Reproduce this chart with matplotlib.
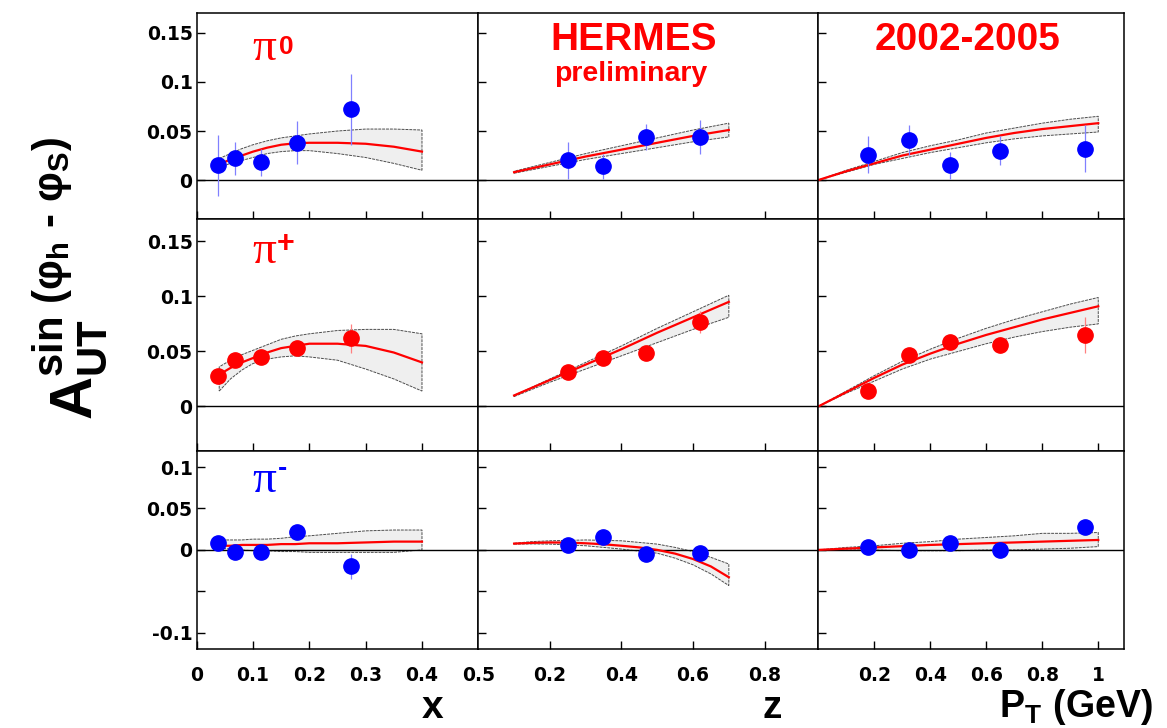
import numpy as np
import matplotlib.pyplot as plt

plt.rcParams['font.family'] = ['Liberation Sans', 'DejaVu Sans']
plt.rcParams['font.weight'] = 'bold'
plt.rcParams['mathtext.fontset'] = 'custom'
plt.rcParams['mathtext.rm'] = 'Liberation Sans:bold'
plt.rcParams['mathtext.bf'] = 'Liberation Sans:bold'
plt.rcParams['mathtext.it'] = 'Liberation Sans:bold'

# data points
x_bins = [0.037, 0.068, 0.115, 0.178, 0.274]
z_bins = [0.250, 0.348, 0.468, 0.619]
pt_bins = [0.178, 0.323, 0.471, 0.649, 0.951]

pi0_x = [0.015, 0.022, 0.018, 0.038, 0.072]
pi0_x_err = [0.031, 0.017, 0.014, 0.022, 0.036]
pip_x = [0.028, 0.042, 0.045, 0.053, 0.062]
pip_x_err = [0.005, 0.005, 0.005, 0.006, 0.013]
pim_x = [0.008, -0.003, -0.002, 0.022, -0.020]
pim_x_err = [0.006, 0.005, 0.006, 0.007, 0.015]

pi0_z = [0.020, 0.014, 0.044, 0.044]
pi0_z_err = [0.019, 0.013, 0.013, 0.017]
pip_z = [0.031, 0.044, 0.049, 0.077]
pip_z_err = [0.005, 0.005, 0.006, 0.010]
pim_z = [0.006, 0.016, -0.005, -0.004]
pim_z_err = [0.005, 0.006, 0.006, 0.008]

pi0_pt = [0.026, 0.041, 0.015, 0.030, 0.032]
pi0_pt_err = [0.019, 0.015, 0.014, 0.015, 0.024]
pip_pt = [0.014, 0.047, 0.059, 0.056, 0.065]
pip_pt_err = [0.005, 0.005, 0.005, 0.007, 0.016]
pim_pt = [0.003, 0.000, 0.008, 0.000, 0.028]
pim_pt_err = [0.004, 0.004, 0.005, 0.006, 0.006]

# model curves with uncertainty bands
x_curve = [0.04, 0.06, 0.08, 0.10, 0.125, 0.15, 0.175, 0.20, 0.25, 0.30, 0.35, 0.40]
pi0_x_fit = [0.016, 0.021, 0.025, 0.029, 0.033, 0.036, 0.0375, 0.038, 0.038, 0.037, 0.034, 0.029]
pi0_x_up = [0.022, 0.027, 0.032, 0.036, 0.040, 0.043, 0.045, 0.047, 0.050, 0.052, 0.052, 0.051]
pi0_x_lo = [0.013, 0.017, 0.020, 0.023, 0.027, 0.029, 0.030, 0.030, 0.027, 0.023, 0.017, 0.010]
pip_x_fit = [0.029, 0.035, 0.040, 0.044, 0.049, 0.053, 0.055, 0.057, 0.057, 0.055, 0.049, 0.040]
pip_x_up = [0.036, 0.042, 0.047, 0.051, 0.056, 0.061, 0.064, 0.066, 0.069, 0.070, 0.070, 0.066]
pip_x_lo = [0.014, 0.025, 0.033, 0.039, 0.043, 0.045, 0.046, 0.045, 0.042, 0.034, 0.025, 0.014]
pim_x_fit = [0.005, 0.005, 0.006, 0.006, 0.006, 0.007, 0.007, 0.008, 0.008, 0.009, 0.010, 0.010]
pim_x_up = [0.012, 0.012, 0.012, 0.013, 0.013, 0.014, 0.016, 0.017, 0.020, 0.023, 0.024, 0.024]
pim_x_lo = [0.002, 0.001, 0.000, -0.001, -0.001, -0.002, -0.002, -0.003, -0.003, -0.003, -0.003, 0.000]

z_curve = [0.10, 0.15, 0.20, 0.25, 0.30, 0.35, 0.40, 0.45, 0.50, 0.55, 0.60, 0.65, 0.70]
pi0_z_fit = [0.008, 0.012, 0.016, 0.020, 0.024, 0.0275, 0.031, 0.0345, 0.038, 0.0415, 0.045, 0.048, 0.051]
pi0_z_up = [0.009, 0.0135, 0.018, 0.0225, 0.027, 0.031, 0.035, 0.039, 0.043, 0.047, 0.051, 0.0545, 0.058]
pi0_z_lo = [0.007, 0.0105, 0.014, 0.0175, 0.021, 0.024, 0.027, 0.030, 0.033, 0.036, 0.039, 0.0415, 0.044]
pip_z_fit = [0.010, 0.017, 0.024, 0.031, 0.038, 0.045, 0.052, 0.0595, 0.067, 0.074, 0.081, 0.088, 0.095]
pip_z_up = [0.010, 0.0175, 0.025, 0.0325, 0.040, 0.0475, 0.055, 0.063, 0.071, 0.0785, 0.086, 0.0935, 0.101]
pip_z_lo = [0.009, 0.0155, 0.022, 0.028, 0.034, 0.040, 0.046, 0.052, 0.058, 0.064, 0.070, 0.0755, 0.081]
pim_z_fit = [0.0076, 0.0085, 0.009, 0.0088, 0.008, 0.0068, 0.005, 0.003, 0.000, -0.0045, -0.011, -0.020, -0.033]
pim_z_up = [0.008, 0.010, 0.011, 0.0115, 0.012, 0.0115, 0.011, 0.009, 0.007, 0.003, -0.002, -0.009, -0.017]
pim_z_lo = [0.007, 0.0072, 0.007, 0.006, 0.005, 0.003, 0.001, -0.0015, -0.004, -0.010, -0.018, -0.029, -0.043]

pt_curve = [0.0, 0.1, 0.2, 0.3, 0.4, 0.5, 0.6, 0.7, 0.8, 0.9, 1.0]
pi0_pt_fit = [0.0, 0.009, 0.017, 0.025, 0.031, 0.037, 0.043, 0.048, 0.052, 0.055, 0.058]
pi0_pt_up = [0.0, 0.010, 0.019, 0.028, 0.035, 0.041, 0.048, 0.053, 0.058, 0.062, 0.065]
pi0_pt_lo = [0.0, 0.008, 0.016, 0.022, 0.028, 0.033, 0.038, 0.042, 0.045, 0.047, 0.049]
pip_pt_fit = [0.0, 0.013, 0.026, 0.038, 0.048, 0.057, 0.065, 0.072, 0.079, 0.085, 0.091]
pip_pt_up = [0.0, 0.014, 0.028, 0.041, 0.052, 0.062, 0.071, 0.079, 0.086, 0.093, 0.099]
pip_pt_lo = [0.0, 0.012, 0.023, 0.034, 0.043, 0.050, 0.057, 0.063, 0.068, 0.072, 0.075]
pim_pt_fit = [0.0, 0.0015, 0.003, 0.0045, 0.006, 0.007, 0.008, 0.009, 0.010, 0.011, 0.012]
pim_pt_up = [0.0, 0.003, 0.005, 0.008, 0.010, 0.013, 0.015, 0.017, 0.020, 0.020, 0.021]
pim_pt_lo = [0.0, 0.0, 0.0, -0.001, -0.001, -0.001, 0.0, 0.0, 0.001, 0.002, 0.004]

W, H = 1167, 728
col_edges = [196.7, 478.3, 818.3, 1124.3]
row_edges = [13.3, 219.3, 450.5, 649.3]
xlims = [(0, 0.5), (0, 0.95), (0, 1.093)]
ylims = [(-0.04, 0.17), (-0.04, 0.17), (-0.12, 0.12)]
xticks = [[0, 0.1, 0.2, 0.3, 0.4, 0.5], [0.2, 0.4, 0.6, 0.8], [0.2, 0.4, 0.6, 0.8, 1.0]]
xticklabels = [['0', '0.1', '0.2', '0.3', '0.4', '0.5'], ['0.2', '0.4', '0.6', '0.8'],
               ['0.2', '0.4', '0.6', '0.8', '1']]
yticks = [[0, 0.05, 0.1, 0.15], [0, 0.05, 0.1, 0.15], [-0.1, -0.05, 0, 0.05, 0.1]]
yticklabels = [['0', '0.05', '0.1', '0.15'], ['0', '0.05', '0.1', '0.15'],
               ['-0.1', '', '0', '0.05', '0.1']]

points = [
    [(x_bins, pi0_x, pi0_x_err), (z_bins, pi0_z, pi0_z_err), (pt_bins, pi0_pt, pi0_pt_err)],
    [(x_bins, pip_x, pip_x_err), (z_bins, pip_z, pip_z_err), (pt_bins, pip_pt, pip_pt_err)],
    [(x_bins, pim_x, pim_x_err), (z_bins, pim_z, pim_z_err), (pt_bins, pim_pt, pim_pt_err)],
]
curves = [
    [(x_curve, pi0_x_fit, pi0_x_up, pi0_x_lo), (z_curve, pi0_z_fit, pi0_z_up, pi0_z_lo),
     (pt_curve, pi0_pt_fit, pi0_pt_up, pi0_pt_lo)],
    [(x_curve, pip_x_fit, pip_x_up, pip_x_lo), (z_curve, pip_z_fit, pip_z_up, pip_z_lo),
     (pt_curve, pip_pt_fit, pip_pt_up, pip_pt_lo)],
    [(x_curve, pim_x_fit, pim_x_up, pim_x_lo), (z_curve, pim_z_fit, pim_z_up, pim_z_lo),
     (pt_curve, pim_pt_fit, pim_pt_up, pim_pt_lo)],
]
row_colors = ['#0000ff', '#ff0000', '#0000ff']
err_colors = ['#8080ff', '#ff8080', '#8080ff']
label_colors = ['#ff0000', '#ff0000', '#0000ff']
charge_labels = ['0', '+', '-']
# pi glyph (left, baseline) and charge (left, center) in axes fractions
pi_pos = [(0.196, 0.773), (0.196, 0.811), (0.196, 0.793)]
charge_pos = [(0.292, 0.836), (0.285, 0.893), (0.290, 0.905)]
charge_size = [19, 22, 20]

tick_font = {'family': 'DejaVu Sans', 'weight': 'bold', 'size': 13.5}

fig = plt.figure(figsize=(W / 100, H / 100), dpi=100)

for r in range(3):
    for c in range(3):
        left = col_edges[c] / W
        width = (col_edges[c + 1] - col_edges[c]) / W
        bottom = (H - row_edges[r + 1]) / H
        height = (row_edges[r + 1] - row_edges[r]) / H
        ax = fig.add_axes([left, bottom, width, height])

        xc, fit, up, lo = curves[r][c]
        xc = np.asarray(xc)
        ax.fill(np.r_[xc, xc[::-1]], np.r_[lo, np.asarray(up)[::-1]],
                facecolor='#efefef', edgecolor='0.3', lw=0.7, ls=(0, (3, 1)), zorder=1)
        ax.plot(xc, fit, color='#ff0000', lw=1.6, zorder=2)
        ax.axhline(0, color='k', lw=1.0, zorder=1.5)

        px, py, pe = points[r][c]
        ax.errorbar(px, py, yerr=pe, fmt='o', color=row_colors[r], ms=11,
                    ecolor=err_colors[r], elinewidth=0.9, capsize=0, zorder=3)

        ax.set_xlim(*xlims[c])
        ax.set_ylim(*ylims[r])
        ax.set_xticks(xticks[c])
        ax.set_xticklabels(xticklabels[c], fontdict=tick_font)
        ax.set_yticks(yticks[r])
        ax.set_yticklabels(yticklabels[r], fontdict=tick_font)
        ax.tick_params(direction='in', length=6, width=1,
                       labelleft=(c == 0), labelbottom=(r == 2))
        ax.tick_params(axis='x', pad=12)
        ax.tick_params(axis='y', pad=3)
        for sp in ax.spines.values():
            sp.set_linewidth(1.1)

        if c == 0:
            ax.text(pi_pos[r][0], pi_pos[r][1], 'π', transform=ax.transAxes,
                    color=label_colors[r], fontsize=34, family='Liberation Serif',
                    fontweight='normal', ha='left', va='baseline')
            ax.text(charge_pos[r][0], charge_pos[r][1], charge_labels[r],
                    transform=ax.transAxes, color=label_colors[r],
                    fontsize=charge_size[r], fontweight='bold', ha='left', va='center')
        if r == 0 and c == 1:
            ax.text(0.458, 0.822, 'HERMES', transform=ax.transAxes, color='#ff0000',
                    fontsize=28, fontweight='bold', ha='center', va='baseline')
            ax.text(0.447, 0.673, 'preliminary', transform=ax.transAxes, color='#ff0000',
                    fontsize=20.5, fontweight='bold', ha='center', va='baseline')
        if r == 0 and c == 2:
            ax.text(0.488, 0.822, '2002-2005', transform=ax.transAxes, color='#ff0000',
                    fontsize=28, fontweight='bold', ha='center', va='baseline')

# axis titles
fig.text(433 / W, (H - 718) / H, 'x', fontsize=28, fontweight='bold', ha='center', va='baseline')
fig.text(772 / W, (H - 718) / H, 'z', fontsize=28, fontweight='bold', ha='center', va='baseline')
fig.text(1153 / W, (H - 717) / H, r'$\mathrm{P_T\ (GeV)}$', fontsize=27,
         ha='right', va='baseline')
fig.text(70 / W, (H - 278) / H,
         r'$\mathrm{A}_{\mathrm{UT}}^{\mathrm{sin\ (φ_h\ ‐\ φ_S)}}$',
         fontsize=43, rotation=90, ha='center', va='center')

fig.savefig('out.png', dpi=100)
